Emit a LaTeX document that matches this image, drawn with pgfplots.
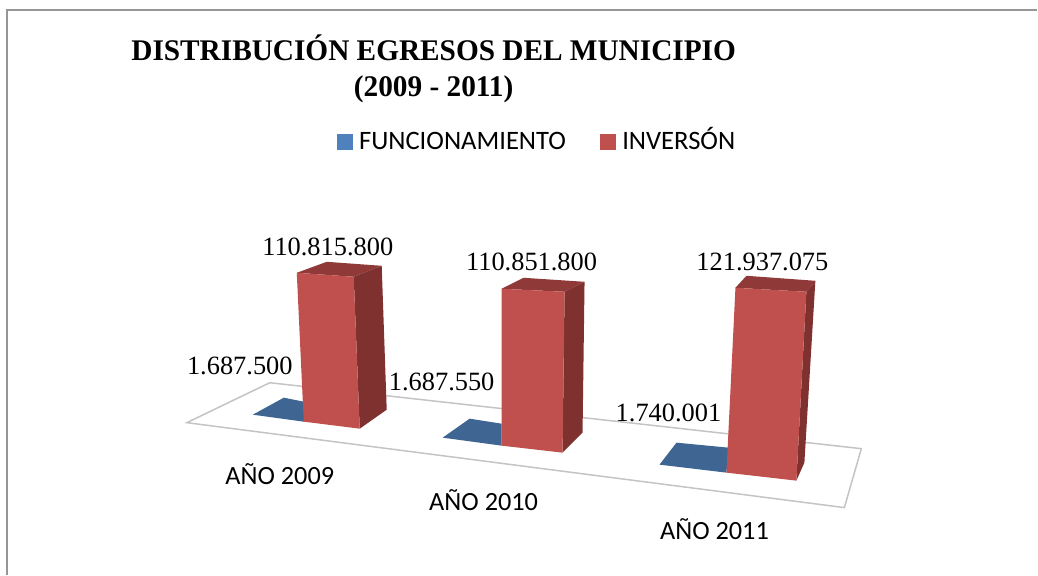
\documentclass[border=0pt]{standalone}
\usepackage{pgfplots}
\pgfplotsset{compat=1.18}
\usepackage{fontspec}
\setmainfont{Liberation Serif}
\newfontfamily\calfont{Carlito}
\definecolor{front}{HTML}{C0504D}
\definecolor{side}{HTML}{7F3130}
\definecolor{topf}{HTML}{8F3A38}
\definecolor{bluef}{HTML}{3F6592}
\definecolor{legb}{HTML}{4F81BD}
\definecolor{floorl}{HTML}{C4C4C4}
\definecolor{frame}{HTML}{969696}
\begin{document}
\begin{tikzpicture}[
  dl/.style={inner sep=0pt,font=\fontsize{26.4}{30}\selectfont,anchor=center},
  cat/.style={inner sep=0pt,font=\calfont\fontsize{26.3}{30}\selectfont,anchor=base}]
\begin{axis}[
  scale only axis,width=1038pt,height=575pt,
  xmin=0,xmax=1038,ymin=0,ymax=575,y dir=reverse,
  hide axis,clip=false,
  area legend,
  legend columns=2,
  legend style={at={(axis cs:337,141.5)},anchor=west,draw=none,fill=none,inner sep=0pt,outer sep=0pt,
    nodes={inner sep=0pt,text height=19pt,text depth=3pt,font=\calfont\fontsize{26.6}{30}\selectfont},
    /tikz/every odd column/.style={column sep=7pt},
    /tikz/every even column/.style={column sep=34pt}},
]
\path (axis cs:0,0) rectangle (axis cs:1038,575);
% frame
\addplot[frame,line width=1.6pt,forget plot] coordinates {(7,575) (7,10) (1038,10)};
% floor
\addplot[floorl,line width=1.5pt,fill=white,forget plot] coordinates {(187,423) (270,383) (862,449) (845,508)} -- cycle;
% FUNCIONAMIENTO
\addplot[fill=bluef,draw=none,forget plot] coordinates {(253,415) (284,398) (304,402) (304,422)} -- cycle;
\addplot[fill=bluef,draw=none,forget plot] coordinates {(443,438) (470,419) (502,424) (502,446)} -- cycle;
\addplot[fill=bluef,draw=none,forget plot] coordinates {(660,465) (677,443) (729,448) (727,473)} -- cycle;
% INVERSION 2009
\addplot[fill=topf,draw=none,forget plot] coordinates {(297,273) (327,262) (382,266) (354,277)} -- cycle;
\addplot[fill=side,draw=none,forget plot] coordinates {(354,277) (382,266) (387,410) (360,429)} -- cycle;
\addplot[fill=front,draw=none,forget plot] coordinates {(297,273) (354,277) (360,429) (304,422)} -- cycle;
% INVERSION 2010
\addplot[fill=topf,draw=none,forget plot] coordinates {(502,289) (524,278) (585,282) (565,292)} -- cycle;
\addplot[fill=side,draw=none,forget plot] coordinates {(565,292) (585,282) (583,433) (563,453)} -- cycle;
\addplot[fill=front,draw=none,forget plot] coordinates {(502,289) (565,292) (563,453) (502,446)} -- cycle;
% INVERSION 2011
\addplot[fill=topf,draw=none,forget plot] coordinates {(736,288) (747,276) (816,281) (807,292)} -- cycle;
\addplot[fill=side,draw=none,forget plot] coordinates {(807,292) (816,281) (805,463) (797,481)} -- cycle;
\addplot[fill=front,draw=none,forget plot] coordinates {(736,288) (807,292) (797,481) (727,473)} -- cycle;
% legend
\addlegendimage{legend image code/.code={\fill[legb] (0pt,-7.5pt) rectangle (15pt,7.5pt);}}
\addlegendentry{FUNCIONAMIENTO}
\addlegendimage{legend image code/.code={\fill[front] (0pt,-7.5pt) rectangle (15pt,7.5pt);}}
\addlegendentry{INVERSÓN}
% data labels
\node[dl] at (axis cs:328,247) {110.815.800};
\node[dl] at (axis cs:532,262) {110.851.800};
\node[dl] at (axis cs:763,262) {121.937.075};
\node[dl] at (axis cs:240,366) {1.687.500};
\node[dl] at (axis cs:442,382) {1.687.550};
\node[dl] at (axis cs:669,413) {1.740.001};
% categories
\node[cat] at (axis cs:280,485) {AÑO 2009};
\node[cat] at (axis cs:484,511) {AÑO 2010};
\node[cat] at (axis cs:715,540) {AÑO 2011};
% title
\node[inner sep=0pt,anchor=base,xscale=0.977,font=\bfseries\fontsize{30}{36}\selectfont] at (axis cs:434,61) {DISTRIBUCIÓN EGRESOS DEL MUNICIPIO};
\node[inner sep=0pt,anchor=base,xscale=0.977,font=\bfseries\fontsize{30}{36}\selectfont] at (axis cs:434,96.5) {(2009 - 2011)};
\end{axis}
\end{tikzpicture}
\end{document}
